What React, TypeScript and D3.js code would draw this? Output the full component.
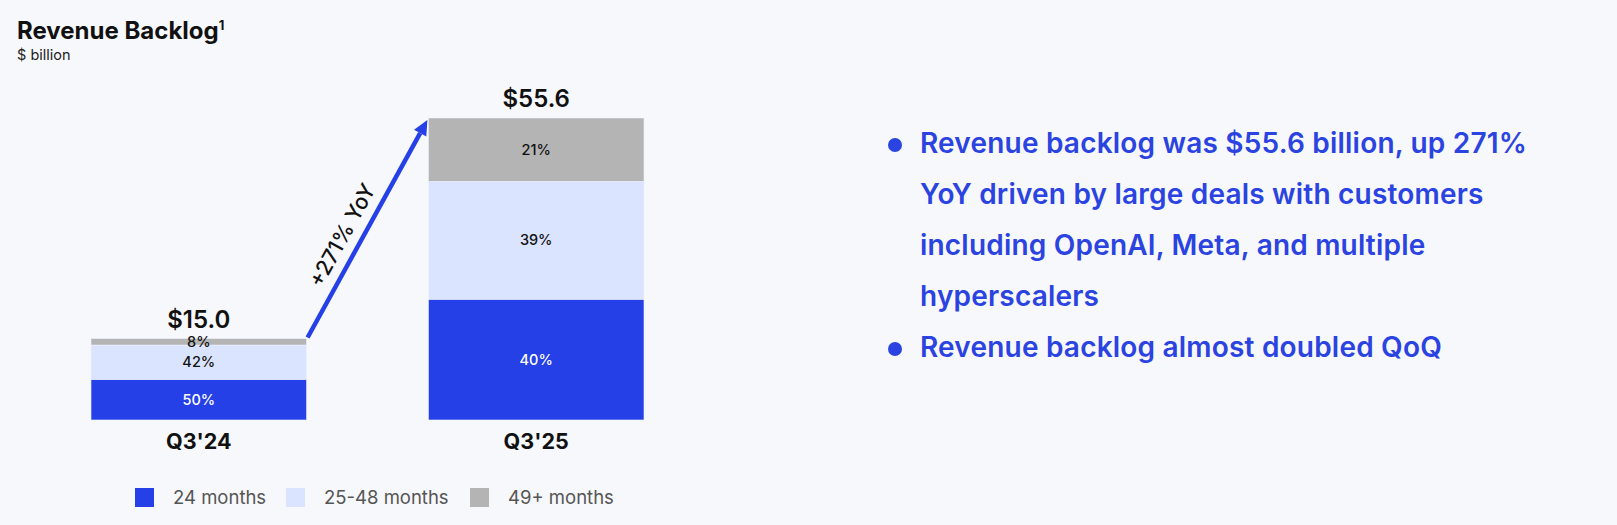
import { useEffect, useRef } from 'react';
import * as d3 from 'd3';

const categories = ["Q3'24", "Q3'25"];
const totals = [15.0, 55.6];
const share24m = [50, 40];
const share25to48m = [42, 39];
const share49m = [8, 21];
const seriesNames = ['24 months', '25-48 months', '49+ months'];
const seriesColors = ['#2540E6', '#DAE4FF', '#B4B4B4'];
const bullets = [
  ['Revenue backlog was $55.6 billion, up 271%', 'YoY driven by large deals with customers', 'including OpenAI, Meta, and multiple', 'hyperscalers'],
  ['Revenue backlog almost doubled QoQ'],
];
const growthLabel = '+271% YoY';

const W = 1617;
const H = 525;
const FONT = 'Inter, "Noto Sans", sans-serif';
const BG = '#F7F8FC';

export default function App() {
  const svgRef = useRef<SVGSVGElement>(null);

  useEffect(() => {
    document.body.style.margin = '0';
    document.body.style.background = BG;
    if (!svgRef.current) return;
    const svg = d3.select(svgRef.current);
    svg.selectAll('*').remove();

    svg.append('rect').attr('width', W).attr('height', H).attr('fill', BG);

    // title
    const title = svg.append('text')
      .attr('x', 17).attr('y', 39)
      .attr('font-family', FONT).attr('font-size', 24).attr('font-weight', 700)
      .attr('fill', '#111');
    title.append('tspan').text('Revenue Backlog');
    title.append('tspan').attr('dy', -9).attr('font-size', 13).text('1');
    svg.append('text')
      .attr('x', 17).attr('y', 60)
      .attr('font-family', FONT).attr('font-size', 14.5).attr('fill', '#222')
      .text('$ billion');

    const x = d3.scaleBand<string>().domain(categories).range([91, 644]).paddingInner(0.361).paddingOuter(0);
    const y = d3.scaleLinear().domain([0, d3.max(totals)!]).range([420, 118]);

    const rows = categories.map((c, i) => ({
      cat: c,
      s0: (totals[i] * share24m[i]) / 100,
      s1: (totals[i] * share25to48m[i]) / 100,
      s2: (totals[i] * share49m[i]) / 100,
      p: [share24m[i], share25to48m[i], share49m[i]],
    }));
    const stack = d3.stack<any>().keys(['s0', 's1', 's2']);
    const layers = stack(rows);

    layers.forEach((layer, li) => {
      const g = svg.append('g');
      g.selectAll('rect')
        .data(layer)
        .enter().append('rect')
        .attr('x', d => x(d.data.cat)!)
        .attr('width', x.bandwidth())
        .attr('y', d => y(d[1]))
        .attr('height', d => y(d[0]) - y(d[1]))
        .attr('fill', seriesColors[li])
        .attr('stroke', '#EEF2FF')
        .attr('stroke-width', 0.6);
      g.selectAll('text')
        .data(layer)
        .enter().append('text')
        .attr('x', d => x(d.data.cat)! + x.bandwidth() / 2)
        .attr('y', d => (y(d[0]) + y(d[1])) / 2 + 5)
        .attr('text-anchor', 'middle')
        .attr('font-family', FONT).attr('font-size', 14.5).attr('font-weight', 500)
        .attr('fill', li === 0 ? '#fff' : '#111')
        .text(d => `${d.data.p[li]}%`);
    });

    // totals
    svg.append('g').selectAll('text')
      .data(rows)
      .enter().append('text')
      .attr('x', (d) => x(d.cat)! + x.bandwidth() / 2)
      .attr('y', (d, i) => y(totals[i]) - 11)
      .attr('text-anchor', 'middle')
      .attr('font-family', FONT).attr('font-size', 24).attr('font-weight', 600)
      .attr('fill', '#111')
      .text((d, i) => `$${totals[i].toFixed(1)}`);

    // category labels
    svg.append('g').selectAll('text')
      .data(categories)
      .enter().append('text')
      .attr('x', d => x(d)! + x.bandwidth() / 2)
      .attr('y', 449)
      .attr('text-anchor', 'middle')
      .attr('font-family', FONT).attr('font-size', 21.5).attr('font-weight', 700)
      .attr('fill', '#111')
      .text(d => d);

    // growth arrow
    const x0 = x(categories[0])! + x.bandwidth() + 1;
    const y0 = y(totals[0]) - 1;
    const x1 = x(categories[1])! - 1;
    const y1 = y(totals[1]) + 2;
    const ang = Math.atan2(y1 - y0, x1 - x0);
    const headLen = 15;
    const bx = x1 - headLen * Math.cos(ang);
    const by = y1 - headLen * Math.sin(ang);
    svg.append('line')
      .attr('x1', x0).attr('y1', y0).attr('x2', bx).attr('y2', by)
      .attr('stroke', '#2540E6').attr('stroke-width', 4.5);
    const px = -Math.sin(ang), py = Math.cos(ang);
    svg.append('path')
      .attr('d', `M${x1},${y1}L${bx + px * 7},${by + py * 7}L${bx - px * 7},${by - py * 7}Z`)
      .attr('fill', '#2540E6');
    svg.append('text')
      .attr('transform', `translate(${(x0 + x1) / 2},${(y0 + y1) / 2}) rotate(${(ang * 180) / Math.PI})`)
      .attr('x', -18).attr('y', -11.5)
      .attr('text-anchor', 'middle')
      .attr('font-family', FONT).attr('font-size', 21.5).attr('font-weight', 500)
      .attr('fill', '#111')
      .text(growthLabel);

    // legend
    const legendX = [135, 286, 470];
    const lg = svg.append('g');
    seriesNames.forEach((n, i) => {
      lg.append('rect').attr('x', legendX[i]).attr('y', 488).attr('width', 19).attr('height', 19).attr('fill', seriesColors[i]);
      lg.append('text')
        .attr('x', legendX[i] + 38).attr('y', 504)
        .attr('font-family', FONT).attr('font-size', 18.5).attr('fill', '#555')
        .text(n);
    });

    // bullets
    const bg = svg.append('g');
    let lineY = 153;
    bullets.forEach(lines => {
      bg.append('circle').attr('cx', 895).attr('cy', lineY - 8).attr('r', 7).attr('fill', '#2B43E0');
      lines.forEach(l => {
        bg.append('text')
          .attr('x', 920).attr('y', lineY)
          .attr('font-family', FONT).attr('font-size', 28).attr('font-weight', 600)
          .attr('letter-spacing', 0.2)
          .attr('fill', '#2B43E0')
          .text(l);
        lineY += 51;
      });
    });
  }, []);

  return (
    <div>
      <svg ref={svgRef} width={W} height={H} style={{ display: 'block' }} />
    </div>
  );
}
